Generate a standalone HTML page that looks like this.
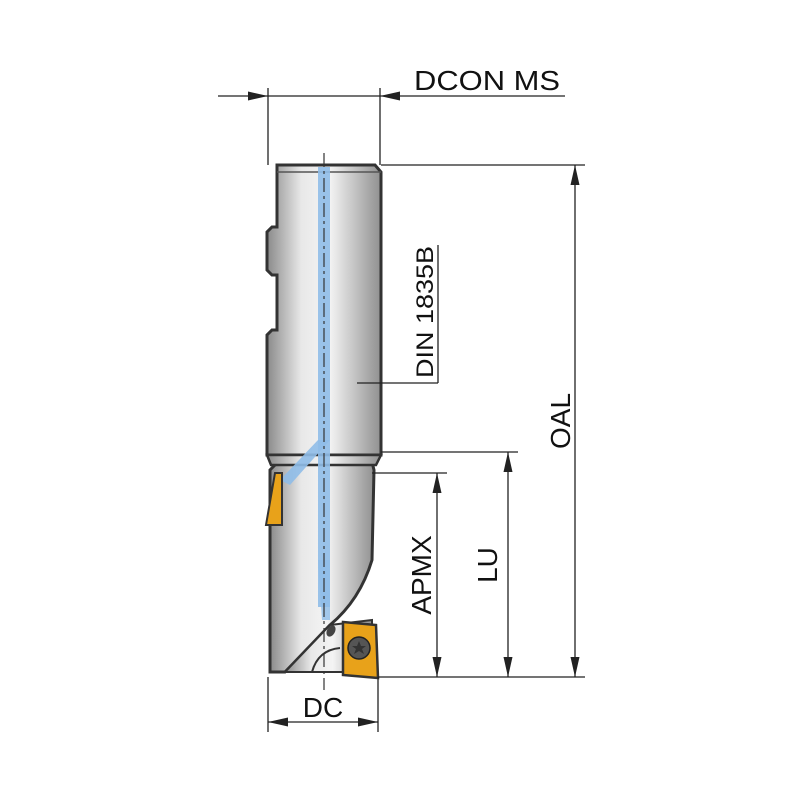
<!DOCTYPE html>
<html><head><meta charset="utf-8"><style>html,body{margin:0;padding:0;background:#fff}</style></head>
<body>
<svg width="800" height="800" viewBox="0 0 800 800" xmlns="http://www.w3.org/2000/svg" font-family="Liberation Sans, sans-serif">
<defs>
<linearGradient id="g" x1="0" x2="1" y1="0" y2="0">
<stop offset="0" stop-color="#8a8a8a"/><stop offset="0.3" stop-color="#e8e8e8"/><stop offset="0.55" stop-color="#f4f4f4"/><stop offset="1" stop-color="#909090"/>
</linearGradient>
<marker id="a" viewBox="0 0 10 10" preserveAspectRatio="none" refX="10" refY="5" markerWidth="20" markerHeight="9" markerUnits="userSpaceOnUse" orient="auto-start-reverse"><path d="M0,0L10,5L0,10z" fill="#222"/></marker>
</defs>
<path d="M278,462 L372,462 L374,470 L372,560 Q360,600 330,625 L285,672 L270,672 L270,470 Z" fill="url(#g)" stroke="#333" stroke-width="3"/>
<path d="M330,625 L372,620 L372,672 L285,672 Z" fill="url(#g)" stroke="#333" stroke-width="2"/>
<path d="M312,672 Q318,650 340,648" fill="none" stroke="#333" stroke-width="2"/>
<ellipse cx="331" cy="631" rx="4" ry="6" transform="rotate(30 331 631)" fill="#444"/>
<path d="M277,165 L375,165 L381,172 L381,455 L267,455 L267,335 L272,330 L277,330 L277,275 L272,275 L267,270 L267,232 L272,227 L277,227 Z" fill="url(#g)" stroke="#333" stroke-width="3"/>
<line x1="277" y1="172" x2="381" y2="172" stroke="#555" stroke-width="1.5"/>
<path d="M267,455 L381,455 L376,465 L271,465 Z" fill="url(#g)" stroke="#333" stroke-width="2.5"/>
<rect x="318" y="167" width="12" height="440" fill="#8fbde8" opacity="0.9"/>
<path d="M318,440 L330,440 L290,485 L280,480 Z" fill="#8fbde8" opacity="0.9"/>
<path d="M318,560 L330,560 L330,620 L322,620 Z" fill="#8fbde8" opacity="0.8"/>
<line x1="324" y1="153" x2="324" y2="690" stroke="#333" stroke-width="1.2" stroke-dasharray="14,4,3,4"/>
<path d="M275,473 L282,473 L282,525 L266,525 Z" fill="#e8a21a" stroke="#333" stroke-width="2"/>
<path d="M343,622 L376,625 L378,678 L343,675 Z" fill="#e8a21a" stroke="#333" stroke-width="2.5"/>
<circle cx="359" cy="648" r="11" fill="#555" stroke="#222" stroke-width="1.5"/>
<path d="M359,641 L361,646 L366,646 L362,649 L364,654 L359,651 L354,654 L356,649 L352,646 L357,646 Z" fill="#333"/>
<g stroke="#222" stroke-width="1.3" fill="none">
<line x1="268" y1="88" x2="268" y2="165"/><line x1="380" y1="88" x2="380" y2="165"/>
<line x1="218" y1="96" x2="268" y2="96" marker-end="url(#a)"/>
<line x1="565" y1="96" x2="380" y2="96" marker-end="url(#a)"/>
<line x1="268" y1="96" x2="380" y2="96"/>
<line x1="381" y1="165" x2="585" y2="165"/><line x1="378" y1="677" x2="585" y2="677"/>
<line x1="575" y1="165" x2="575" y2="677" marker-start="url(#a)" marker-end="url(#a)"/>
<line x1="381" y1="452" x2="518" y2="452"/>
<line x1="508" y1="452" x2="508" y2="677" marker-start="url(#a)" marker-end="url(#a)"/>
<line x1="372" y1="473" x2="447" y2="473"/>
<line x1="437" y1="473" x2="437" y2="677" marker-start="url(#a)" marker-end="url(#a)"/>
<line x1="268" y1="677" x2="268" y2="732"/><line x1="378" y1="677" x2="378" y2="732"/>
<line x1="268" y1="722" x2="378" y2="722" marker-start="url(#a)" marker-end="url(#a)"/>
<line x1="357" y1="383" x2="438" y2="383"/><line x1="438" y1="245" x2="438" y2="383"/>
</g>
<g fill="#111" font-size="28">
<text x="414" y="90" textLength="146" lengthAdjust="spacingAndGlyphs">DCON MS</text>
<text x="323" y="717" text-anchor="middle">DC</text>
<text transform="translate(570,421) rotate(-90)" text-anchor="middle">OAL</text>
<text transform="translate(497,565) rotate(-90)" text-anchor="middle">LU</text>
<text transform="translate(431,575) rotate(-90)" text-anchor="middle">APMX</text>
<text transform="translate(433,312) rotate(-90)" text-anchor="middle" font-size="24" textLength="132" lengthAdjust="spacingAndGlyphs">DIN 1835B</text>
</g>
</svg>
</body></html>
